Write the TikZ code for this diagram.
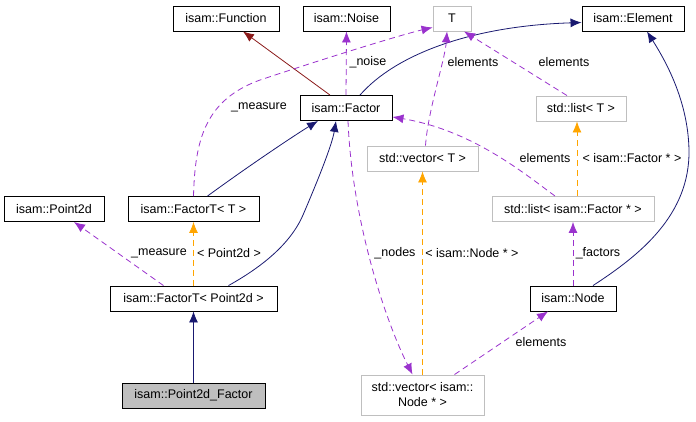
\documentclass[tikz,border=0pt]{standalone}
\usepackage{fontspec}
\setmainfont{Liberation Sans}
\usetikzlibrary{arrows.meta}
\definecolor{navy}{HTML}{191970}
\definecolor{brick}{HTML}{8B1A1A}
\definecolor{orchid}{HTML}{9A32CD}
\definecolor{amber}{HTML}{FFA500}
\definecolor{edge}{HTML}{BFBFBF}
\newcommand{\dfont}{\fontsize{12.5}{15}\selectfont}

\begin{document}
\begin{tikzpicture}[x=1pt,y=-1pt,
  box/.style={draw=black,line width=0.9pt,font=\dfont,minimum height=25pt,minimum width=#1,inner sep=2pt,align=center},
  box/.default=60pt,
  tbox/.style={box=#1,draw=edge},
  tbox/.default=60pt,
  lbl/.style={font=\dfont,inner sep=0pt},
  inh/.style={draw=navy,line width=0.8pt,-{Latex[length=11pt,width=9pt]}},
  priv/.style={draw=brick,line width=0.8pt,-{Latex[length=11pt,width=9pt]}},
  member/.style={draw=orchid,line width=0.8pt,dash pattern=on 6pt off 4pt,-{Latex[length=11pt,width=9pt]}},
  tmpl/.style={draw=amber,line width=0.8pt,dash pattern=on 6pt off 4pt,-{Latex[length=11pt,width=9pt]}}]
\useasboundingbox (0,0) rectangle (696,421);
\node[box=106pt] (fun) at (226,18.5) {isam::Function};
\node[box=87pt] (noise) at (346.5,18.5) {isam::Noise};
\node[tbox=38pt] (T) at (452,18.5) {T};
\node[box=102pt] (elem) at (633,18.5) {isam::Element};
\node[box=92pt] (fac) at (346,108) {isam::Factor};
\node[tbox=90pt] (listT) at (581,108.5) {std::list< T >};
\node[tbox=111pt] (vecT) at (422.5,158.5) {std::vector< T >};
\node[box=100pt] (pt) at (54,209) {isam::Point2d};
\node[box=131pt] (facT) at (193.5,209) {isam::FactorT< T >};
\node[tbox=162pt] (listF) at (573,209) {std::list< isam::Factor * >};
\node[box=167pt] (facTP) at (193.5,298.5) {isam::FactorT< Point2d >};
\node[box=86pt] (node) at (573,298.5) {isam::Node};
\node[box=143pt,fill=edge] (p2f) at (193.5,395.5) {isam::Point2d\_Factor};
\node[tbox=123pt,minimum height=40pt] (vecN) at (422.5,395) {std::vector< isam::\\Node * >};

\draw[priv] ([xshift=-16pt]fac.north) -- ([xshift=17pt]fun.south);
\draw[member] (fac.north) -- (noise.south);
\draw[inh] ([xshift=14pt]fac.north) .. controls (395,55) and (470,26) .. ([yshift=-4pt]elem.west);
\draw[member] (facT.north) .. controls (195,140) and (205,100) .. (260,80) .. controls (320,60) and (400,35) .. ([yshift=4pt]T.south west);
\draw[inh] ([xshift=14pt]facT.north) .. controls (250,165) and (295,135) .. ([xshift=-28pt]fac.south);
\draw[inh] ([xshift=35pt]facTP.north) .. controls (260,268) and (290,245) .. (303,215) .. controls (318,180) and (332,145) .. ([xshift=-10pt]fac.south);
\draw[tmpl] (facTP.north) -- (facT.south);
\draw[member] ([xshift=-30pt]facTP.north) -- ([xshift=20pt]pt.south);
\draw[inh] (p2f.north) -- (facTP.south);
\draw[member] ([xshift=2pt]fac.south) .. controls (352,220) and (385,320) .. ([xshift=-10pt]vecN.north);
\draw[member] ([xshift=3pt]vecT.north) .. controls (428,110) and (445,60) .. ([xshift=-5pt]T.south);
\draw[tmpl] (vecN.north) -- (vecT.south);
\draw[member] ([xshift=-14pt]listT.north) -- ([xshift=12pt]T.south);
\draw[member] ([xshift=-18pt]listF.north) .. controls (520,170) and (470,130) .. ([yshift=4pt]fac.south east);
\draw[tmpl] ([xshift=4pt]listF.north) -- ([xshift=-4pt]listT.south);
\draw[member] (node.north) -- (listF.south);
\draw[inh] ([xshift=20pt]node.north) .. controls (640,255) and (690,215) .. (689,150) .. controls (688,100) and (665,60) .. ([xshift=14pt]elem.south);
\draw[member] ([xshift=32pt]vecN.north) -- ([xshift=-25pt]node.south);

\node[lbl] (l1) at (368,62) {\_noise};
\node[lbl] (l2) at (259,107) {\_measure};
\node[lbl] (l3) at (473,62) {elements};
\node[lbl] (l4) at (564,62) {elements};
\node[lbl] (l5) at (545,158) {elements};
\node[lbl] (l6) at (632,158) {< isam::Factor * >};
\node[lbl] (l7) at (159,253) {\_measure};
\node[lbl] (l8) at (229,253) {< Point2d >};
\node[lbl] (l9) at (395,253) {\_nodes};
\node[lbl] (l10) at (472,253) {< isam::Node * >};
\node[lbl] (l11) at (598,253) {\_factors};
\node[lbl] (l12) at (541,342) {elements};
\end{tikzpicture}
\end{document}
